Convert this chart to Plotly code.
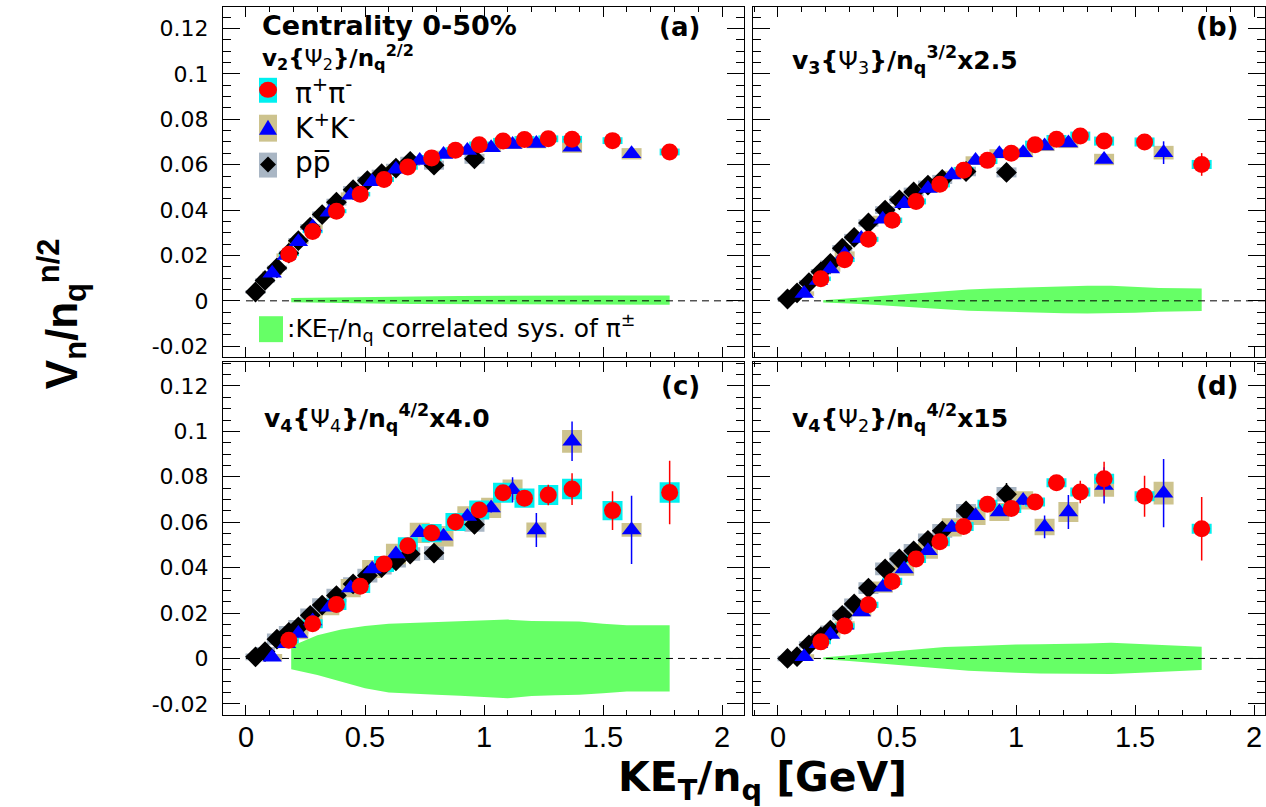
import plotly.graph_objects as go

# ---------------- kinematic bins (KE_T/n_q in GeV) ----------------
PION_X = [0.18, 0.28, 0.38, 0.48, 0.58, 0.68, 0.78, 0.88, 0.98, 1.08, 1.17, 1.27, 1.37, 1.54, 1.78]
KAON_X = [0.11, 0.17, 0.22, 0.28, 0.35, 0.44, 0.53, 0.63, 0.73, 0.83, 0.93, 1.03, 1.12, 1.22, 1.37, 1.62]
PROTON_X = [0.04, 0.08, 0.13, 0.18, 0.22, 0.27, 0.32, 0.38, 0.45, 0.51, 0.57, 0.63, 0.69, 0.79, 0.96]

# ---------------- (a) v2{Psi2}/nq^(2/2) ----------------
A_PI = [0.0205, 0.0306, 0.0395, 0.0470, 0.0535, 0.0590, 0.0630, 0.0664, 0.0688, 0.0704, 0.0711, 0.0714, 0.0712, 0.0706, 0.0656]
A_PI_STAT = [0.0002, 0.0002, 0.0002, 0.0002, 0.0002, 0.0002, 0.0003, 0.0003, 0.0003, 0.0004, 0.0005, 0.0006, 0.0008, 0.0010, 0.0015]
A_PI_SYS = [0.0008, 0.0008, 0.0009, 0.0010, 0.0011, 0.0012, 0.0013, 0.0013, 0.0014, 0.0014, 0.0015, 0.0015, 0.0015, 0.0015, 0.0015]
A_K = [0.0122, 0.0200, 0.0260, 0.0325, 0.0390, 0.0465, 0.0525, 0.0580, 0.0618, 0.0645, 0.0662, 0.0675, 0.0689, 0.0693, 0.0677, 0.0648]
A_K_STAT = [0.0003, 0.0003, 0.0003, 0.0003, 0.0003, 0.0003, 0.0003, 0.0004, 0.0004, 0.0005, 0.0006, 0.0007, 0.0008, 0.0009, 0.0010, 0.0015]
A_K_SYS = [0.0008, 0.0009, 0.0010, 0.0011, 0.0012, 0.0013, 0.0014, 0.0015, 0.0016, 0.0017, 0.0018, 0.0019, 0.0020, 0.0021, 0.0025, 0.0025]
A_P = [0.0039, 0.0090, 0.0145, 0.0210, 0.0265, 0.0325, 0.0380, 0.0435, 0.0490, 0.0530, 0.0560, 0.0585, 0.0615, 0.0598, 0.0626]
A_P_STAT = [0.0002, 0.0002, 0.0002, 0.0002, 0.0003, 0.0003, 0.0003, 0.0003, 0.0004, 0.0004, 0.0005, 0.0006, 0.0007, 0.0008, 0.0012]
A_P_SYS = [0.0008, 0.0009, 0.0010, 0.0011, 0.0012, 0.0013, 0.0014, 0.0015, 0.0016, 0.0017, 0.0018, 0.0019, 0.0020, 0.0020, 0.0022]
A_BAND_UP = [0.0012, 0.0014, 0.0016, 0.0017, 0.0018, 0.0019, 0.0020, 0.0021, 0.0022, 0.0023, 0.0024, 0.0024, 0.0024, 0.0024, 0.0023, 0.0023, 0.0023]
A_BAND_LO = [-0.0006, -0.0008, -0.0010, -0.0012, -0.0013, -0.0014, -0.0015, -0.0016, -0.0016, -0.0017, -0.0017, -0.0017, -0.0017, -0.0017, -0.0017, -0.0017, -0.0017]

# ---------------- (b) v3{Psi3}/nq^(3/2) x2.5 ----------------
B_PI = [0.0097, 0.0181, 0.0271, 0.0355, 0.0438, 0.0514, 0.0575, 0.0619, 0.0650, 0.0688, 0.0712, 0.0726, 0.0704, 0.0700, 0.0601]
B_PI_STAT = [0.0003, 0.0003, 0.0003, 0.0003, 0.0004, 0.0004, 0.0005, 0.0005, 0.0006, 0.0007, 0.0008, 0.0010, 0.0012, 0.0018, 0.0050]
B_PI_SYS = [0.0010, 0.0010, 0.0011, 0.0012, 0.0013, 0.0014, 0.0015, 0.0016, 0.0017, 0.0018, 0.0019, 0.0020, 0.0020, 0.0020, 0.0020]
B_K = [0.0032, 0.0090, 0.0140, 0.0205, 0.0275, 0.0360, 0.0428, 0.0495, 0.0555, 0.0618, 0.0648, 0.0653, 0.0682, 0.0696, 0.0623, 0.0653]
B_K_STAT = [0.0003, 0.0003, 0.0003, 0.0004, 0.0004, 0.0004, 0.0005, 0.0005, 0.0006, 0.0007, 0.0008, 0.0009, 0.0010, 0.0012, 0.0015, 0.0050]
B_K_SYS = [0.0010, 0.0011, 0.0012, 0.0013, 0.0014, 0.0015, 0.0016, 0.0017, 0.0018, 0.0019, 0.0020, 0.0021, 0.0022, 0.0023, 0.0025, 0.0030]
B_P = [0.0008, 0.0035, 0.0080, 0.0128, 0.0165, 0.0232, 0.0280, 0.0343, 0.0400, 0.0445, 0.0480, 0.0510, 0.0535, 0.0570, 0.0566]
B_P_STAT = [0.0003, 0.0003, 0.0003, 0.0003, 0.0004, 0.0004, 0.0004, 0.0005, 0.0005, 0.0006, 0.0006, 0.0007, 0.0008, 0.0009, 0.0015]
B_P_SYS = [0.0010, 0.0010, 0.0011, 0.0012, 0.0013, 0.0014, 0.0015, 0.0016, 0.0017, 0.0018, 0.0019, 0.0020, 0.0020, 0.0021, 0.0022]
B_BAND_UP = [0.0003, 0.0012, 0.0020, 0.0028, 0.0036, 0.0043, 0.0050, 0.0054, 0.0057, 0.0061, 0.0066, 0.0067, 0.0066, 0.0061, 0.0057, 0.0055, 0.0054]
B_BAND_LO = [-0.0007, -0.0012, -0.0017, -0.0022, -0.0030, -0.0037, -0.0044, -0.0046, -0.0048, -0.0052, -0.0055, -0.0056, -0.0055, -0.0052, -0.0048, -0.0046, -0.0045]

# ---------------- (c) v4{Psi4}/nq^(4/2) x4.0 ----------------
C_PI = [0.0080, 0.0153, 0.0238, 0.0318, 0.0416, 0.0496, 0.0552, 0.0601, 0.0654, 0.0730, 0.0706, 0.0720, 0.0746, 0.0651, 0.0731]
C_PI_STAT = [0.0005, 0.0005, 0.0006, 0.0007, 0.0008, 0.0009, 0.0010, 0.0012, 0.0015, 0.0020, 0.0030, 0.0045, 0.0070, 0.0085, 0.0140]
C_PI_SYS = [0.0015, 0.0020, 0.0025, 0.0030, 0.0035, 0.0038, 0.0040, 0.0040, 0.0042, 0.0044, 0.0042, 0.0044, 0.0045, 0.0042, 0.0045]
C_K = [0.0005, 0.0065, 0.0110, 0.0165, 0.0225, 0.0310, 0.0394, 0.0460, 0.0553, 0.0538, 0.0625, 0.0663, 0.0743, 0.0566, 0.0956, 0.0566]
C_K_STAT = [0.0005, 0.0005, 0.0006, 0.0007, 0.0008, 0.0009, 0.0010, 0.0011, 0.0012, 0.0013, 0.0015, 0.0020, 0.0055, 0.0075, 0.0087, 0.0150]
C_K_SYS = [0.0015, 0.0020, 0.0025, 0.0030, 0.0035, 0.0040, 0.0040, 0.0045, 0.0045, 0.0045, 0.0045, 0.0045, 0.0045, 0.0033, 0.0050, 0.0030]
C_P = [0.0007, 0.0030, 0.0085, 0.0115, 0.0139, 0.0190, 0.0235, 0.0277, 0.0328, 0.0365, 0.0400, 0.0430, 0.0460, 0.0464, 0.0590]
C_P_STAT = [0.0004, 0.0004, 0.0005, 0.0005, 0.0006, 0.0006, 0.0007, 0.0008, 0.0009, 0.0010, 0.0011, 0.0012, 0.0014, 0.0018, 0.0040]
C_P_SYS = [0.0015, 0.0020, 0.0025, 0.0028, 0.0030, 0.0030, 0.0030, 0.0030, 0.0030, 0.0030, 0.0030, 0.0030, 0.0030, 0.0030, 0.0032]
C_BAND_UP = [0.0054, 0.0102, 0.0128, 0.0143, 0.0153, 0.0157, 0.0160, 0.0164, 0.0168, 0.0171, 0.0165, 0.0163, 0.0163, 0.0153, 0.0146, 0.0146, 0.0146]
C_BAND_LO = [-0.0048, -0.0073, -0.0102, -0.0131, -0.0150, -0.0156, -0.0160, -0.0164, -0.0168, -0.0175, -0.0165, -0.0162, -0.0160, -0.0153, -0.0146, -0.0146, -0.0146]

# ---------------- (d) v4{Psi2}/nq^(4/2) x15 ----------------
D_PI = [0.0073, 0.0143, 0.0236, 0.0339, 0.0438, 0.0514, 0.0581, 0.0679, 0.0660, 0.0689, 0.0774, 0.0733, 0.0791, 0.0714, 0.0571]
D_PI_STAT = [0.0005, 0.0005, 0.0006, 0.0007, 0.0008, 0.0010, 0.0012, 0.0015, 0.0015, 0.0020, 0.0030, 0.0050, 0.0075, 0.0090, 0.0140]
D_PI_SYS = [0.0010, 0.0012, 0.0014, 0.0016, 0.0018, 0.0020, 0.0020, 0.0020, 0.0020, 0.0020, 0.0020, 0.0020, 0.0022, 0.0022, 0.0022]
D_K = [0.0007, 0.0065, 0.0105, 0.0146, 0.0205, 0.0314, 0.0394, 0.0474, 0.0577, 0.0628, 0.0645, 0.0696, 0.0579, 0.0645, 0.0762, 0.0728]
D_K_STAT = [0.0005, 0.0005, 0.0006, 0.0007, 0.0008, 0.0009, 0.0010, 0.0011, 0.0012, 0.0014, 0.0016, 0.0020, 0.0050, 0.0075, 0.0080, 0.0150]
D_K_SYS = [0.0012, 0.0014, 0.0016, 0.0018, 0.0020, 0.0025, 0.0030, 0.0035, 0.0040, 0.0040, 0.0040, 0.0040, 0.0036, 0.0044, 0.0050, 0.0050]
D_P = [0.0000, 0.0008, 0.0060, 0.0095, 0.0125, 0.0190, 0.0240, 0.0310, 0.0394, 0.0438, 0.0474, 0.0520, 0.0562, 0.0650, 0.0723]
D_P_STAT = [0.0004, 0.0004, 0.0005, 0.0005, 0.0006, 0.0006, 0.0007, 0.0008, 0.0009, 0.0010, 0.0011, 0.0012, 0.0014, 0.0018, 0.0050]
D_P_SYS = [0.0012, 0.0014, 0.0016, 0.0018, 0.0020, 0.0022, 0.0024, 0.0026, 0.0028, 0.0030, 0.0030, 0.0030, 0.0030, 0.0030, 0.0032]
D_BAND_UP = [0.0004, 0.0014, 0.0025, 0.0035, 0.0044, 0.0050, 0.0054, 0.0058, 0.0061, 0.0062, 0.0063, 0.0066, 0.0069, 0.0064, 0.0058, 0.0054, 0.0051]
D_BAND_LO = [-0.0004, -0.0011, -0.0019, -0.0028, -0.0036, -0.0045, -0.0054, -0.0059, -0.0063, -0.0066, -0.0069, -0.0069, -0.0069, -0.0064, -0.0058, -0.0054, -0.0051]

# x positions of the correlated pion systematic band
BAND_X = [0.19, 0.30, 0.40, 0.50, 0.60, 0.70, 0.80, 0.90, 1.00, 1.10, 1.20, 1.30, 1.40, 1.50, 1.60, 1.70, 1.78]

# ---------------- axis ticks ----------------
Y_TICK_VALS = [-0.02, 0.0, 0.02, 0.04, 0.06, 0.08, 0.10, 0.12]
Y_TICK_TEXT = ["-0.02", "0", "0.02", "0.04", "0.06", "0.08", "0.1", "0.12"]
X_TICK_VALS = [0.0, 0.5, 1.0, 1.5, 2.0]
X_TICK_TEXT = ["0", "0.5", "1", "1.5", "2"]

# ---------------- styling ----------------
W, H = 1266, 807
RED, BLUE, BLACK = "#ff0000", "#0000ff", "#000000"
PI_BOX, K_BOX, P_BOX = "#00f0f0", "#cdc38e", "#a9b6c4"
GREEN = "#66ff66"
SYS_W = 0.084
TXT_FONT = "DejaVu Sans"
NUM_FONT = "Liberation Sans"

X_RANGE_L = [-0.0966, 2.0924]
X_RANGE_R = [-0.105, 2.046]
Y_RANGE_T = [-0.0248, 0.1295]
Y_RANGE_B = [-0.0250, 0.1305]

DOM_X_L = [223 / W, 744 / W]
DOM_X_R = [753 / W, 1265 / W]
DOM_Y_T = [1 - 358 / H, 1 - 7 / H]
DOM_Y_B = [1 - 717 / H, 1 - 363 / H]

fig = go.Figure()

panels = [
    # axis suffix, pion, kaon, proton arrays, band, x-range end
    ("", (A_PI, A_PI_STAT, A_PI_SYS), (A_K, A_K_STAT, A_K_SYS), (A_P, A_P_STAT, A_P_SYS), (A_BAND_UP, A_BAND_LO), X_RANGE_L[1]),
    ("2", (B_PI, B_PI_STAT, B_PI_SYS), (B_K, B_K_STAT, B_K_SYS), (B_P, B_P_STAT, B_P_SYS), (B_BAND_UP, B_BAND_LO), X_RANGE_R[1]),
    ("3", (C_PI, C_PI_STAT, C_PI_SYS), (C_K, C_K_STAT, C_K_SYS), (C_P, C_P_STAT, C_P_SYS), (C_BAND_UP, C_BAND_LO), X_RANGE_L[1]),
    ("4", (D_PI, D_PI_STAT, D_PI_SYS), (D_K, D_K_STAT, D_K_SYS), (D_P, D_P_STAT, D_P_SYS), (D_BAND_UP, D_BAND_LO), X_RANGE_R[1]),
]

for suffix, pi, ka, pr, band, xend in panels:
    xa, ya = "x" + suffix, "y" + suffix
    up, lo = band
    # correlated systematic band of pions
    fig.add_trace(go.Scatter(
        x=BAND_X + BAND_X[::-1], y=up + lo[::-1], fill="toself", fillcolor=GREEN,
        mode="lines", line=dict(width=0, color=GREEN), xaxis=xa, yaxis=ya,
        showlegend=False, hoverinfo="skip"))
    # zero reference line
    fig.add_trace(go.Scatter(
        x=[0, xend], y=[0, 0], mode="lines",
        line=dict(color=BLACK, width=1, dash="7px,5px"),
        xaxis=xa, yaxis=ya, showlegend=False, hoverinfo="skip"))
    species = [
        (PROTON_X, pr, P_BOX, BLACK, "diamond", 16),
        (KAON_X, ka, K_BOX, BLUE, "triangle-up", 17),
        (PION_X, pi, PI_BOX, RED, "circle", 17),
    ]
    # systematic boxes
    for xs, (ys, st, sy), box, col, sym, sz in species:
        fig.add_trace(go.Bar(
            x=xs, y=[2 * s for s in sy], base=[v - s for v, s in zip(ys, sy)],
            width=SYS_W, marker=dict(color=box, line=dict(width=0)), opacity=1,
            xaxis=xa, yaxis=ya, showlegend=False, hoverinfo="skip"))
    # data points with statistical errors
    for xs, (ys, st, sy), box, col, sym, sz in species:
        fig.add_trace(go.Scatter(
            x=xs, y=ys, mode="markers",
            marker=dict(symbol=sym, size=sz, color=col, line=dict(width=0)),
            error_y=dict(type="data", array=st, color=col, thickness=1.5, width=0),
            xaxis=xa, yaxis=ya, showlegend=False))


def axis_common():
    return dict(showline=True, linecolor=BLACK, linewidth=1, mirror="allticks",
                ticks="inside", tickcolor=BLACK, tickwidth=1, showgrid=False,
                zeroline=False, fixedrange=True)


def xaxis(domain, rng, anchor, labels):
    d = axis_common()
    d.update(domain=domain, range=rng, anchor=anchor, ticklen=10,
             tickmode="array", tickvals=X_TICK_VALS, ticktext=X_TICK_TEXT,
             showticklabels=labels, ticklabelstandoff=-4,
             tickfont=dict(family=NUM_FONT, size=29, color=BLACK),
             minor=dict(ticks="inside", ticklen=5, tickmode="linear", tick0=0, dtick=0.1,
                        tickcolor=BLACK, tickwidth=1, showgrid=False))
    return d


def yaxis(domain, rng, anchor, labels):
    d = axis_common()
    d.update(domain=domain, range=rng, anchor=anchor, ticklen=17,
             tickmode="array", tickvals=Y_TICK_VALS, ticktext=Y_TICK_TEXT,
             showticklabels=labels, ticklabelstandoff=9,
             tickfont=dict(family=TXT_FONT, size=22, color=BLACK),
             minor=dict(ticks="inside", ticklen=8, tickmode="linear", tick0=0, dtick=0.005,
                        tickcolor=BLACK, tickwidth=1, showgrid=False))
    return d


fig.update_layout(
    width=W, height=H, autosize=False,
    margin=dict(l=0, r=0, t=0, b=0),
    paper_bgcolor="white", plot_bgcolor="white",
    barmode="overlay", showlegend=False,
    xaxis=xaxis(DOM_X_L, X_RANGE_L, "y", False),
    yaxis=yaxis(DOM_Y_T, Y_RANGE_T, "x", True),
    xaxis2=xaxis(DOM_X_R, X_RANGE_R, "y2", False),
    yaxis2=yaxis(DOM_Y_T, Y_RANGE_T, "x2", False),
    xaxis3=xaxis(DOM_X_L, X_RANGE_L, "y3", True),
    yaxis3=yaxis(DOM_Y_B, Y_RANGE_B, "x3", True),
    xaxis4=xaxis(DOM_X_R, X_RANGE_R, "y4", True),
    yaxis4=yaxis(DOM_Y_B, Y_RANGE_B, "x4", False),
)


def px(x, y):
    return x / W, 1 - y / H


annotations = []


def label(text, x, y, anchor="left", size=24, family=TXT_FONT, angle=0):
    ax, ay = px(x, y)
    annotations.append(dict(text=text, x=ax, y=ay, xref="paper", yref="paper",
                            xanchor=anchor, yanchor="middle", showarrow=False,
                            textangle=angle, font=dict(family=family, size=size, color=BLACK)))


label("<b>Centrality 0-50%</b>", 260, 26, size=27)
label("<b>(a)</b>", 702, 27, anchor="right", size=26)
label("<b>(b)</b>", 1240, 27, anchor="right", size=26)
label("<b>(c)</b>", 702, 387, anchor="right", size=26)
label("<b>(d)</b>", 1240, 387, anchor="right", size=26)
label("<b>v<sub>2</sub>{</b>Ψ<sub>2</sub><b>}/n<sub>q</sub><sup>2/2</sup></b>", 260, 58, size=23)
label("<b>v<sub>3</sub>{</b>Ψ<sub>3</sub><b>}/n<sub>q</sub><sup>3/2</sup>x2.5</b>", 790, 60, size=25)
label("<b>v<sub>4</sub>{</b>Ψ<sub>4</sub><b>}/n<sub>q</sub><sup>4/2</sup>x4.0</b>", 262, 419, size=25)
label("<b>v<sub>4</sub>{</b>Ψ<sub>2</sub><b>}/n<sub>q</sub><sup>4/2</sup>x15</b>", 790, 419, size=25)

# legend of panel (a)
label("π<sup>+</sup>π<sup>-</sup>", 293, 92, size=28)
label("K<sup>+</sup>K<sup>-</sup>", 293, 127, size=28)
label("pp\u0305", 293, 163, size=28)
label(":KE<sub>T</sub>/n<sub>q</sub> correlated sys. of π<sup>±</sup>", 285, 329, size=25)

# axis titles
label("<b>KE<sub>T</sub>/n<sub>q</sub> [GeV]</b>", 762, 782, anchor="center", size=41, family=TXT_FONT)
label("<b>V<sub>n</sub>/n<sub>q</sub><sup>n/2</sup></b>", 62, 315, anchor="center", size=44, family=NUM_FONT, angle=-90)

shapes = []


def rect_px(x0, y0, x1, y1, color):
    a0, b0 = px(x0, y0)
    a1, b1 = px(x1, y1)
    shapes.append(dict(type="rect", xref="paper", yref="paper", x0=a0, y0=b1, x1=a1, y1=b0,
                       fillcolor=color, line=dict(width=0), layer="above"))


def path_px(points, color):
    pts = [px(x, y) for x, y in points]
    d = "M " + " L ".join(f"{a},{b}" for a, b in pts) + " Z"
    shapes.append(dict(type="path", xref="paper", yref="paper", path=d,
                       fillcolor=color, line=dict(width=0), layer="above"))


# legend boxes and symbols
rect_px(259, 78, 277, 103, PI_BOX)
a0, b0 = px(259, 82)
a1, b1 = px(277, 98)
shapes.append(dict(type="circle", xref="paper", yref="paper", x0=a0, y0=b1, x1=a1, y1=b0,
                   fillcolor=RED, line=dict(width=0), layer="above"))
rect_px(259, 115, 277, 142, K_BOX)
path_px([(259, 135), (277, 135), (268, 120)], BLUE)
rect_px(259, 153, 277, 178, P_BOX)
path_px([(268, 157), (276, 165), (268, 173), (260, 165)], BLACK)
rect_px(259, 317, 283, 343, GREEN)

fig.update_layout(annotations=annotations, shapes=shapes)

fig.write_html("out.html")
